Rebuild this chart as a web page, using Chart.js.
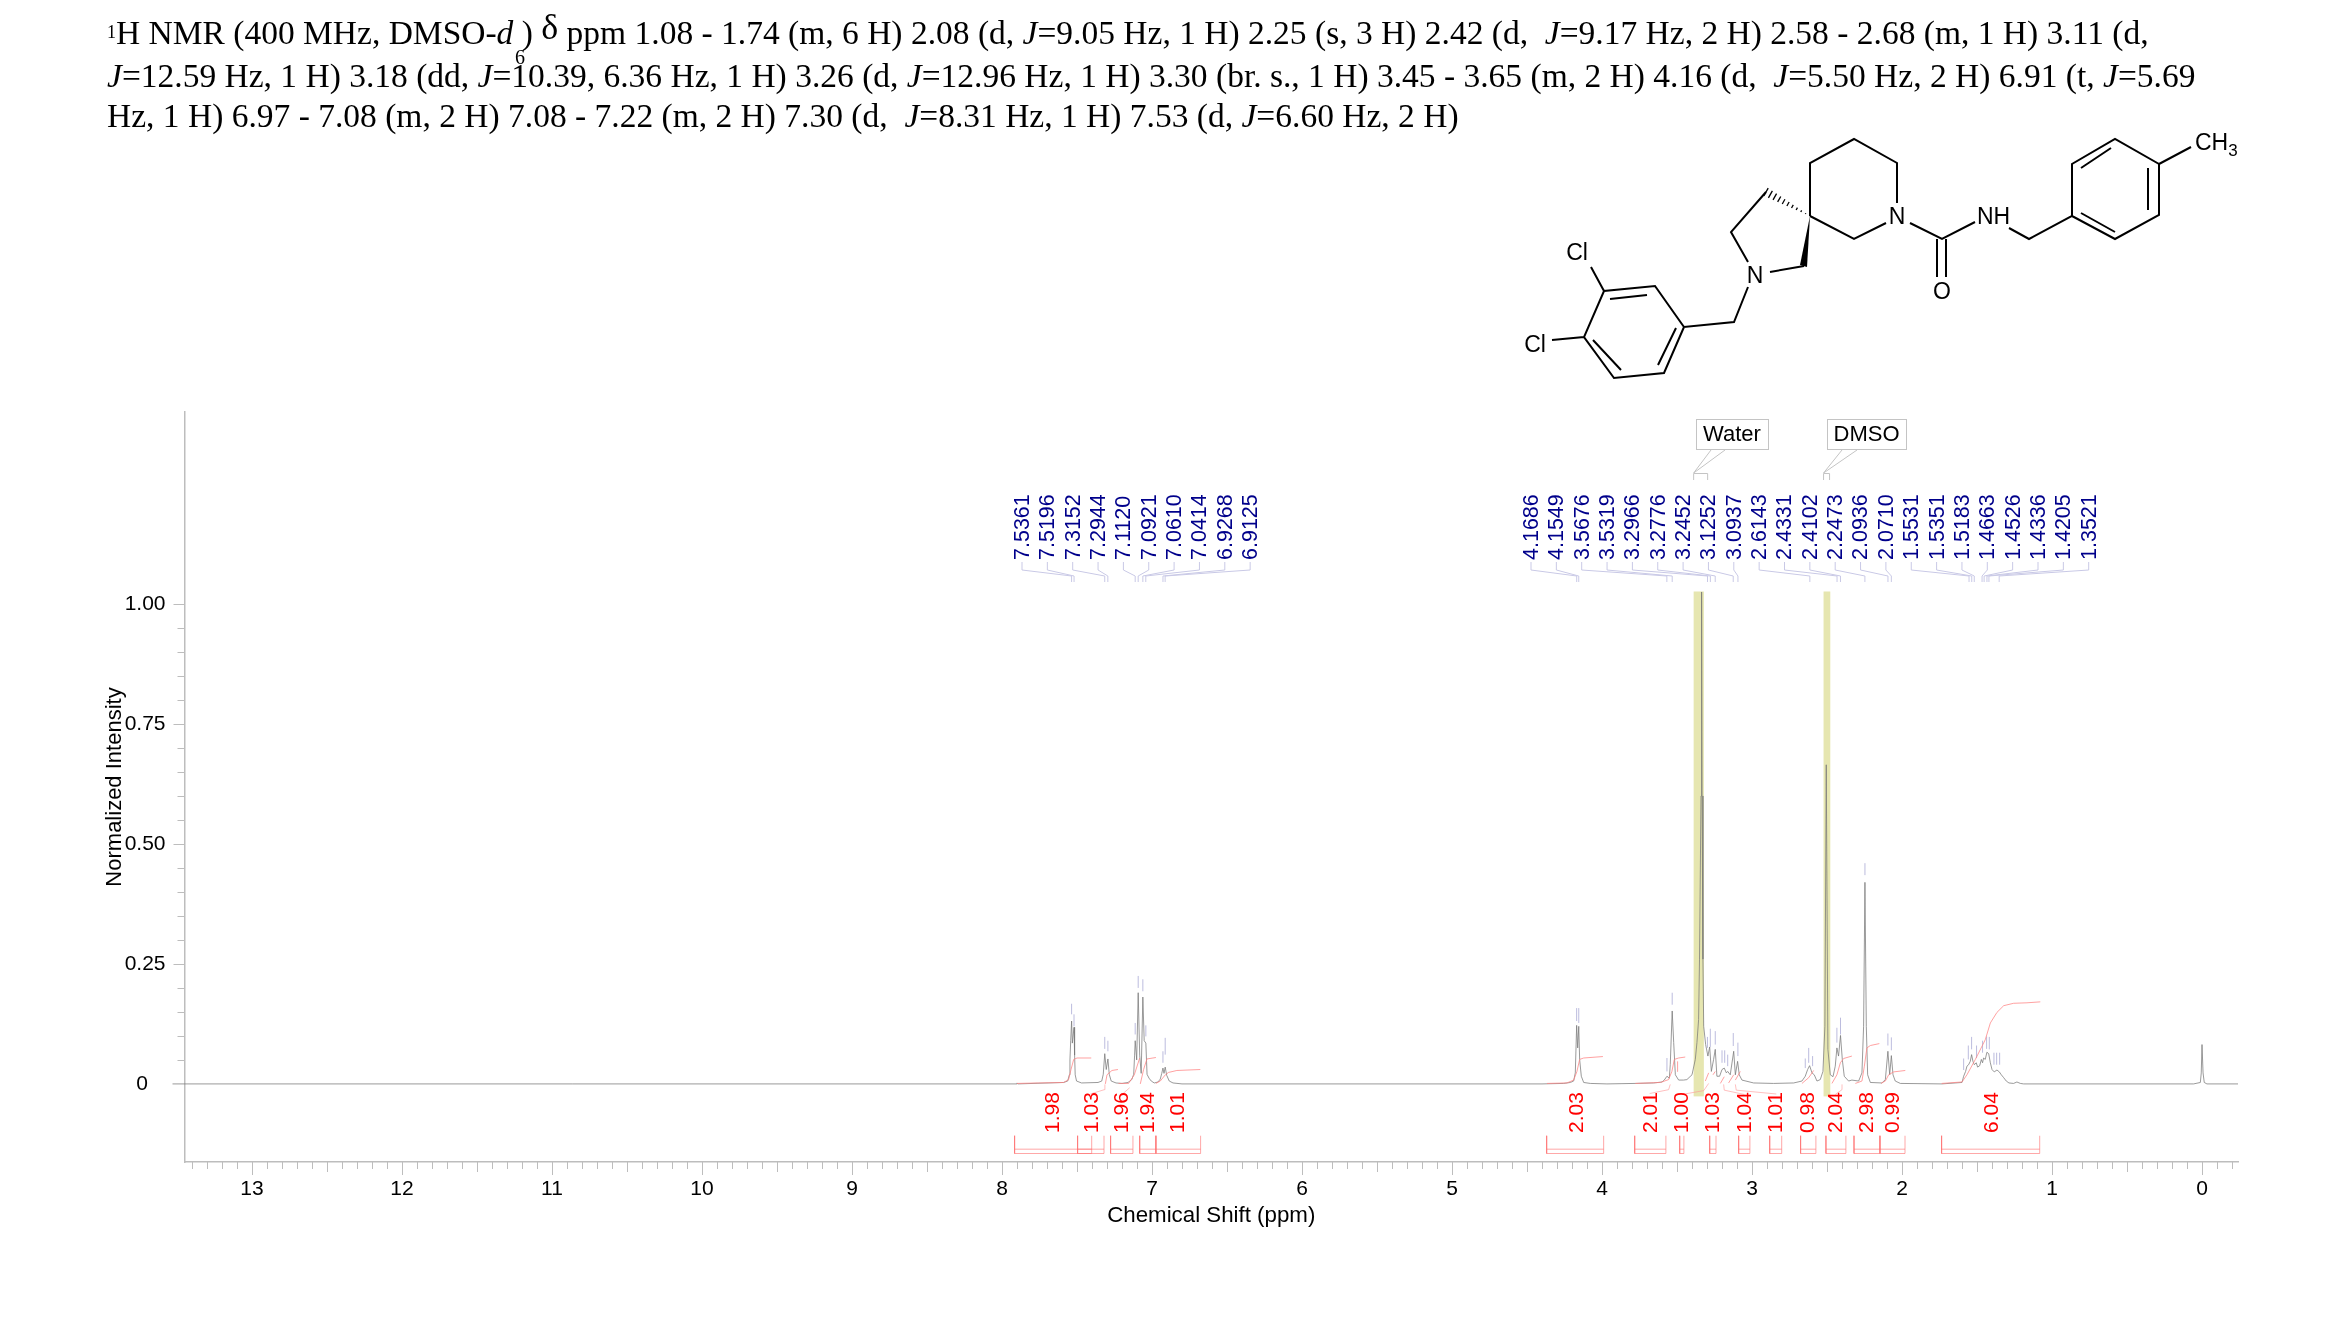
<!DOCTYPE html>
<html>
<head>
<meta charset="utf-8">
<title>1H NMR</title>
<script src="https://cdn.jsdelivr.net/npm/chart.js@4"></script>
<style>
  html, body { margin: 0; background: #fff; }
  #page { position: relative; width: 2339px; height: 1327px; overflow: hidden; }
  canvas { position: absolute; left: 0; top: 0; }
  .hdr { position: absolute; left: 107px; font: 33.5px "Liberation Serif", serif; white-space: pre; color: #000; line-height: 34px; }
  .hdr sup { font-size: 18px; line-height: 0; vertical-align: 6px; }
  .delta { font-size: 36px; position: relative; top: -5px; }
  svg { position: absolute; left: 0; top: 0; }
</style>
</head>
<body>
<div id="page">
  <canvas id="nmr" width="2339" height="1327"></canvas>
  <div class="hdr" style="top:15px"><sup>1</sup>H NMR (400 MHz, DMSO-<i>d</i> ) <span class="delta">δ</span> ppm 1.08 - 1.74 (m, 6 H) 2.08 (d, <i>J</i>=9.05 Hz, 1 H) 2.25 (s, 3 H) 2.42 (d,  <i>J</i>=9.17 Hz, 2 H) 2.58 - 2.68 (m, 1 H) 3.11 (d,</div>
  <div class="hdr" style="top:40px;left:515px;font-size:20px">6</div>
  <div class="hdr" style="top:59px"><i>J</i>=12.59 Hz, 1 H) 3.18 (dd, <i>J</i>=10.39, 6.36 Hz, 1 H) 3.26 (d, <i>J</i>=12.96 Hz, 1 H) 3.30 (br. s., 1 H) 3.45 - 3.65 (m, 2 H) 4.16 (d,  <i>J</i>=5.50 Hz, 2 H) 6.91 (t, <i>J</i>=5.69</div>
  <div class="hdr" style="top:99px">Hz, 1 H) 6.97 - 7.08 (m, 2 H) 7.08 - 7.22 (m, 2 H) 7.30 (d,  <i>J</i>=8.31 Hz, 1 H) 7.53 (d, <i>J</i>=6.60 Hz, 2 H)</div>
  <svg id="mol" width="2339" height="420" font-family="Liberation Sans" font-size="23" fill="#000">
    <path fill="none" stroke="#000" stroke-width="2" d="
      M1810 216 L1810 163 L1854 139 L1897 163 L1897 203
      M1886 223 L1854 239 L1810 216
      M1766 192 L1731 232 L1748 262
      M1770 272 L1804 266
      M1748 287 L1734 322 L1684 327 L1655 286 L1604 291 L1584 337 L1614 378 L1664 373 L1684 327
      M1647 295 L1610 299 M1593 340 L1621 370 M1658 365 L1676 328
      M1591 267 L1604 291 M1552 340 L1584 337
      M1910 223 L1942 239 L1975 222
      M1937 239 L1937 277 M1946 239 L1946 277
      M2009 228 L2029 239 L2072 216 L2072 164 L2115 139 L2159 164 L2159 215 L2115 239 L2072 216
      M2081 168 L2111 148 M2148 168 L2148 210 M2081 213 L2115 232
      M2159 164 L2191 147"/>
    <polygon points="1810,216 1800,265 1807,267"/>
    <text x="1897" y="224" text-anchor="middle">N</text>
    <text x="1755" y="283" text-anchor="middle">N</text>
    <text x="1942" y="299" text-anchor="middle">O</text>
    <text x="1977" y="224">NH</text>
    <text x="1577" y="260" text-anchor="middle">Cl</text>
    <text x="1535" y="352" text-anchor="middle">Cl</text>
    <text x="2195" y="150">CH<tspan font-size="17" dy="6">3</tspan></text>
  </svg>
</div>
<script>
// spectrum trace (ppm, normalized intensity)
var spectrumPpm = [13.53,8.2,7.905,7.9,7.895,7.589,7.562,7.551,7.547,7.542,7.536,7.531,7.52,7.516,7.512,7.503,7.47,
  7.36,7.335,7.325,7.315,7.305,7.294,7.285,7.272,7.24,7.2,7.16,7.135,7.122,7.116,7.112,7.102,7.092,7.082,7.072,7.061,7.052,7.041,7.033,7.02,7.005,6.985,6.96,6.945,6.935,6.927,6.92,6.912,6.902,6.885,6.86,6.8,
  4.4,4.256,4.211,4.189,4.178,4.169,4.162,4.155,4.149,4.138,4.122,4.078,3.967,3.78,3.656,3.6,3.585,3.567,3.551,3.545,3.532,3.522,3.511,3.489,3.456,3.434,3.4,3.378,3.367,3.356,3.35,3.34,3.336,3.333,3.327,3.322,3.309,3.294,3.282,3.271,3.256,3.245,3.234,3.216,3.2,3.185,3.171,3.162,3.145,3.122,3.111,3.096,3.085,3.067,2.989,2.856,2.722,2.667,2.645,2.629,2.616,2.6,2.585,2.567,2.545,2.527,2.514,2.505,2.494,2.478,2.46,2.445,2.434,2.423,2.41,2.398,2.385,2.356,2.334,2.289,2.267,2.256,2.247,2.238,2.229,2.211,2.134,2.111,2.094,2.082,2.071,2.06,2.045,2.011,
  1.734,1.6,1.589,1.576,1.567,1.556,1.545,1.536,1.527,1.518,1.505,1.496,1.482,1.471,1.463,1.456,1.445,1.434,1.422,1.411,1.4,1.385,1.367,1.351,1.338,1.322,1.305,1.287,1.256,1.234,1.211,1.189,0.056,0.011,0.005,0,-0.007,-0.015,-0.033,-0.24];
var spectrumInt = [0,0,0,0.002,0,0.003,0.006,0.019,0.05,0.09,0.131,0.085,0.118,0.06,0.019,0.006,0.002,
  0.003,0.006,0.02,0.063,0.03,0.052,0.02,0.006,0.002,0.001,0.003,0.009,0.02,0.06,0.09,0.05,0.19,0.06,0.022,0.181,0.09,0.085,0.02,0.012,0.006,0.002,0.004,0.01,0.022,0.033,0.022,0.035,0.018,0.006,0.002,0,
  0,0.001,0.003,0.006,0.023,0.122,0.075,0.12,0.051,0.016,0.003,0.001,0,0.001,0.002,0.004,0.008,0.016,0.012,0.04,0.152,0.086,0.019,0.008,0.008,0.009,0.019,0.051,0.086,0.134,0.26,0.6,1.025,0.6,0.26,0.12,0.082,0.058,0.077,0.026,0.051,0.072,0.016,0.016,0.03,0.033,0.023,0.026,0.019,0.068,0.019,0.047,0.019,0.008,0.002,0.001,0.002,0.006,0.016,0.03,0.038,0.023,0.019,0.006,0.009,0.026,0.12,0.665,0.072,0.019,0.015,0.037,0.075,0.058,0.101,0.051,0.016,0.006,0.008,0.006,0.023,0.12,0.42,0.12,0.019,0.003,0.002,0.009,0.068,0.019,0.059,0.019,0.006,0.001,
  0,0.003,0.016,0.026,0.037,0.04,0.047,0.061,0.047,0.04,0.044,0.035,0.038,0.051,0.044,0.054,0.051,0.066,0.063,0.044,0.03,0.025,0.029,0.025,0.019,0.013,0.006,0.002,0.001,0.004,0.001,0,0,0.003,0.023,0.082,0.023,0.003,0,0];

// integral curves, null breaks between curves
var integralPpm = [7.9,7.756,7.589,7.556,7.54,7.522,7.5,7.405,null,7.311,7.3,7.267,7.227,null,7.223,7.156,7.118,7.082,null,7.078,7.056,7.034,6.974,null,6.974,6.945,6.911,6.889,6.834,6.678,null,
  4.367,4.234,4.189,4.167,4.149,4.122,3.994,null,3.778,3.611,3.556,3.534,3.518,3.489,3.445,null,3.5,3.496,null,3.311,3.289,null,3.26,3.245,null,3.211,3.185,null,3.156,3.122,null,3.111,3.078,null,
  2.667,2.622,2.589,null,2.467,2.434,2.411,2.389,2.334,null,2.311,2.267,2.251,2.234,2.211,2.151,null,2.14,2.111,2.089,2.056,1.978,null,1.736,1.6,1.567,1.511,1.445,1.411,1.367,1.322,1.256,1.167,1.078];
var integralVal = [0.001,0.002,0.003,0.009,0.03,0.051,0.054,0.054,null,0,0.019,0.028,0.03,null,0.001,0.001,0.019,0.054,null,0,0.03,0.052,0.055,null,0.001,0.006,0.019,0.024,0.028,0.03,null,
  0.001,0.002,0.008,0.026,0.051,0.054,0.057,null,0.001,0.003,0.009,0.026,0.051,0.054,0.056,null,0.026,0.047,null,0.006,0.023,null,0.019,0.026,null,0.001,0.015,null,0.002,0.019,null,0.008,0.026,null,
  0.001,0.013,0.028,null,0.001,0.019,0.044,0.053,0.058,null,0.001,0.006,0.037,0.075,0.08,0.084,null,0.001,0.006,0.019,0.025,0.028,null,0.001,0.004,0.019,0.051,0.092,0.127,0.149,0.163,0.168,0.169,0.171];

// pale leaders going from the curves down toward the integral labels
var leaderPpm = [7.411,7.318,7.314,null,7.2,7.149,null,3.682,3.556,3.545,null,3.467,3.322,3.289,null,3.189,3.185,3.051,null,3.111,3.105,2.838,null,2.445,2.4,2.4];
var leaderVal = [-0.021,-0.012,-0.001,null,-0.022,-0.008,null,-0.02,-0.012,-0.001,null,-0.022,-0.014,0.001,null,-0.001,-0.013,-0.022,null,-0.001,-0.013,-0.021,null,-0.022,-0.012,-0.001];

// integral regions
var integralLabels = ['1.98','1.03','1.96','1.94','1.01','2.03','2.01','1.00','1.03','1.04','1.01','0.98','2.04','2.98','0.99','6.04'];
var integralFrom = [7.916,7.496,7.276,7.082,6.974,4.369,3.782,3.482,3.282,3.089,2.882,2.676,2.507,2.32,2.147,1.736];
var integralTo = [7.402,7.32,7.127,6.974,6.676,3.989,3.574,3.454,3.24,3.014,2.802,2.574,2.374,2.147,1.98,1.082];
var integralLabelX = [1053,1092,1122,1148,1178,1577,1651,1682,1713,1745,1776,1808,1836,1867,1893,1992];

// peak ticks above the trace
var markPpm = [7.536,7.52,7.315,7.294,7.112,7.092,7.061,7.041,6.927,6.912,4.169,4.155,3.567,3.532,3.297,3.278,3.245,3.2,3.182,3.162,3.125,3.094,2.645,2.622,2.596,2.434,2.41,2.247,2.094,2.071,1.589,1.558,1.536,1.503,1.463,1.436,1.418,1.387,1.369,1.349];
var markLo = [0.145,0.12,0.073,0.068,0.103,0.2,0.193,0.099,0.044,0.061,0.131,0.127,0.026,0.165,0.075,0.077,0.082,0.044,0.044,0.037,0.079,0.058,0.033,0.044,0.037,0.086,0.103,0.435,0.08,0.07,0.029,0.051,0.072,0.054,0.065,0.073,0.072,0.04,0.04,0.04];
var markHi = [0.167,0.145,0.098,0.09,0.127,0.225,0.218,0.122,0.068,0.096,0.158,0.158,0.054,0.19,0.098,0.115,0.11,0.07,0.07,0.061,0.106,0.086,0.053,0.075,0.058,0.117,0.138,0.46,0.105,0.097,0.053,0.08,0.098,0.08,0.09,0.099,0.098,0.065,0.065,0.065];

// peak picking labels
var aromaticPeaks = ['7.5361','7.5196','7.3152','7.2944','7.1120','7.0921','7.0610','7.0414','6.9268','6.9125'];
var aliphaticPeaks = ['4.1686','4.1549','3.5676','3.5319','3.2966','3.2776','3.2452','3.1252','3.0937','2.6143','2.4331','2.4102','2.2473','2.0936','2.0710','1.5531','1.5351','1.5183','1.4663','1.4526','1.4336','1.4205','1.3521'];

var solventLabels = ['Water','DMSO'];
var solventFrom = [3.389,2.523];
var solventTo = [3.321,2.478];

var xMajor = [13,12,11,10,9,8,7,6,5,4,3,2,1,0];
var yLabelled = [0,0.25,0.5,0.75,1];

var sansFont = '"Liberation Sans", Arial, sans-serif';

function zipPoints(xs, ys) {
    return xs.map(function (x, i) { return {x: x, y: ys[i]}; });
}

var markPoints = [];
markPpm.forEach(function (p, i) {
    markPoints.push({x: p, y: markLo[i]}, {x: p, y: markHi[i]}, {x: null, y: null});
});

var bracketPoints = [];
integralFrom.forEach(function (from, i) {
    var to = integralTo[i];
    bracketPoints.push({x: from, y: -0.108}, {x: from, y: -0.145}, {x: to, y: -0.145}, {x: to, y: -0.108}, {x: null, y: null});
    bracketPoints.push({x: from, y: -0.136}, {x: to, y: -0.136}, {x: null, y: null});
});

// solvent bands, peak labels, integral labels and tick marks
var nmrExtras = {
    id: 'nmrExtras',
    beforeDatasetsDraw: function (chart) {
        var ctx = chart.ctx, x = chart.scales.x, y = chart.scales.y;
        ctx.save();
        ctx.fillStyle = '#e6e6b0';
        solventFrom.forEach(function (from, i) {
            var left = x.getPixelForValue(from), right = x.getPixelForValue(solventTo[i]);
            var top = y.getPixelForValue(1.026), bottom = y.getPixelForValue(-0.026);
            ctx.fillRect(left, top, right - left, bottom - top);
        });
        ctx.restore();
    },
    afterDraw: function (chart) {
        var ctx = chart.ctx, x = chart.scales.x, y = chart.scales.y;
        ctx.save();

        // axis ticks, three lengths on x, two on y
        ctx.strokeStyle = '#bdbdbd';
        ctx.lineWidth = 1;
        x.ticks.forEach(function (t) {
            var px = Math.round(x.getPixelForValue(t.value)) + 0.5;
            var tenths = Math.round(t.value * 10);
            var len = tenths % 10 === 0 ? 13 : (tenths % 5 === 0 ? 10 : 7);
            ctx.beginPath();
            ctx.moveTo(px, x.top);
            ctx.lineTo(px, x.top + len);
            ctx.stroke();
        });
        y.ticks.forEach(function (t) {
            var py = Math.round(y.getPixelForValue(t.value)) + 0.5;
            var major = yLabelled.some(function (v) { return Math.abs(v - t.value) < 1e-6; });
            if (t.value === 0) return;
            ctx.beginPath();
            ctx.moveTo(y.right, py);
            ctx.lineTo(y.right - (major ? 11 : 7), py);
            ctx.stroke();
        });

        // peak labels with their connectors
        ctx.font = '21.5px ' + sansFont;
        ctx.textBaseline = 'middle';
        ctx.textAlign = 'left';
        function drawPeaks(labels, firstX) {
            labels.forEach(function (label, i) {
                var lx = firstX + i * 25.35;
                var px = x.getPixelForValue(parseFloat(label));
                ctx.strokeStyle = '#c9c9e6';
                ctx.beginPath();
                ctx.moveTo(lx, 562);
                ctx.lineTo(lx, 570);
                ctx.lineTo(px, 576);
                ctx.lineTo(px, 582);
                ctx.stroke();
                ctx.save();
                ctx.translate(lx + 1, 560);
                ctx.rotate(-Math.PI / 2);
                ctx.fillStyle = '#00008b';
                ctx.fillText(label, 0, 0);
                ctx.restore();
            });
        }
        drawPeaks(aromaticPeaks, 1022);
        drawPeaks(aliphaticPeaks, 1531);

        // integral values
        ctx.fillStyle = '#ff0000';
        ctx.font = '21px ' + sansFont;
        integralLabels.forEach(function (label, i) {
            ctx.save();
            ctx.translate(integralLabelX[i], 1133);
            ctx.rotate(-Math.PI / 2);
            ctx.fillText(label, 0, 0);
            ctx.restore();
        });

        // Water / DMSO callouts
        var boxes = [[1696, 72, 1711, 1725], [1827, 79, 1842, 1857]];
        solventLabels.forEach(function (label, i) {
            var b = boxes[i];
            var left = x.getPixelForValue(solventFrom[i]);
            ctx.strokeStyle = '#c4c4c4';
            ctx.strokeRect(b[0] + 0.5, 419.5, b[1], 30);
            ctx.beginPath();
            ctx.moveTo(b[2], 450);
            ctx.lineTo(left, 473);
            ctx.lineTo(b[3], 450);
            ctx.moveTo(left, 480);
            ctx.lineTo(left, 473.5);
            ctx.lineTo(left + (i === 0 ? 14 : 6), 473.5);
            ctx.lineTo(left + (i === 0 ? 14 : 6), 480);
            ctx.stroke();
            ctx.fillStyle = '#000';
            ctx.font = '22px ' + sansFont;
            ctx.textAlign = 'center';
            ctx.fillText(label, b[0] + b[1] / 2, 435);
            ctx.textAlign = 'left';
        });
        ctx.restore();
    }
};

new Chart(document.getElementById('nmr'), {
    type: 'scatter',
    plugins: [nmrExtras],
    data: {
        datasets: [
            {
                label: 'Integral brackets',
                data: bracketPoints,
                showLine: true,
                borderColor: 'rgba(255,110,110,0.6)',
                borderWidth: 1,
                pointRadius: 0
            },
            {
                label: 'Leaders',
                data: zipPoints(leaderPpm, leaderVal),
                showLine: true,
                borderColor: 'rgba(255,150,150,0.6)',
                borderWidth: 1,
                pointRadius: 0
            },
            {
                label: 'Integrals',
                data: zipPoints(integralPpm, integralVal),
                showLine: true,
                borderColor: 'rgba(255,130,130,0.75)',
                borderWidth: 1,
                pointRadius: 0
            },
            {
                label: 'Peak marks',
                data: markPoints,
                showLine: true,
                borderColor: '#bcbcde',
                borderWidth: 1,
                pointRadius: 0
            },
            {
                label: 'Spectrum',
                data: zipPoints(spectrumPpm, spectrumInt),
                showLine: true,
                borderColor: 'rgba(120,120,120,0.75)',
                borderWidth: 1,
                pointRadius: 0,
                clip: false
            }
        ]
    },
    options: {
        responsive: false,
        animation: false,
        devicePixelRatio: 1,
        layout: {padding: {top: 412, right: 101, bottom: 0, left: 0}},
        plugins: {legend: {display: false}, tooltip: {enabled: false}, title: {display: false}},
        scales: {
            x: {
                type: 'linear',
                reverse: true,
                min: -0.24,
                max: 13.45,
                grid: {display: false},
                border: {color: '#bdbdbd', width: 1.5},
                afterFit: function (scale) { scale.height = 165; },
                afterBuildTicks: function (scale) {
                    var ticks = [];
                    for (var i = -2; i <= 134; i++) ticks.push({value: i / 10});
                    scale.ticks = ticks;
                },
                ticks: {
                    autoSkip: false,
                    maxRotation: 0,
                    padding: 7,
                    color: '#000',
                    font: {family: sansFont, size: 21},
                    callback: function (v) {
                        var major = xMajor.some(function (m) { return Math.abs(m - v) < 1e-6; });
                        return major ? String(Math.round(v)) : '';
                    }
                },
                title: {
                    display: true,
                    text: 'Chemical Shift (ppm)',
                    color: '#000',
                    font: {family: sansFont, size: 22.3},
                    padding: {top: 0, bottom: 98}
                }
            },
            y: {
                type: 'linear',
                min: -0.1627,
                max: 1.4,
                grid: {display: false},
                border: {color: '#bdbdbd', width: 1.5},
                afterFit: function (scale) { scale.width = 184.5; },
                afterBuildTicks: function (scale) {
                    var ticks = [];
                    for (var i = 0; i <= 20; i++) ticks.push({value: i / 20});
                    scale.ticks = ticks;
                },
                ticks: {
                    autoSkip: false,
                    padding: 11,
                    color: '#000',
                    font: {family: sansFont, size: 21},
                    callback: function (v) {
                        if (Math.abs(v) < 1e-6) return '0   ';
                        var major = yLabelled.some(function (m) { return Math.abs(m - v) < 1e-6; });
                        return major ? v.toFixed(2) : '';
                    }
                },
                title: {
                    display: true,
                    text: 'Normalized Intensity',
                    color: '#000',
                    font: {family: sansFont, size: 22},
                    padding: {top: 102, bottom: 0}
                }
            }
        }
    }
});

// hashed bond of the spiro centre
var mol = document.getElementById('mol');
for (var t = 0.1; t <= 1; t += 0.1) {
    var cx = 1810 - 44 * t, cy = 216 - 24 * t, half = 4.5 * t;
    var bond = document.createElementNS('http://www.w3.org/2000/svg', 'line');
    bond.setAttribute('x1', cx + 0.49 * half);
    bond.setAttribute('y1', cy - 0.87 * half);
    bond.setAttribute('x2', cx - 0.49 * half);
    bond.setAttribute('y2', cy + 0.87 * half);
    bond.setAttribute('stroke', '#000');
    bond.setAttribute('stroke-width', '1.3');
    mol.appendChild(bond);
}
</script>
</body>
</html>
